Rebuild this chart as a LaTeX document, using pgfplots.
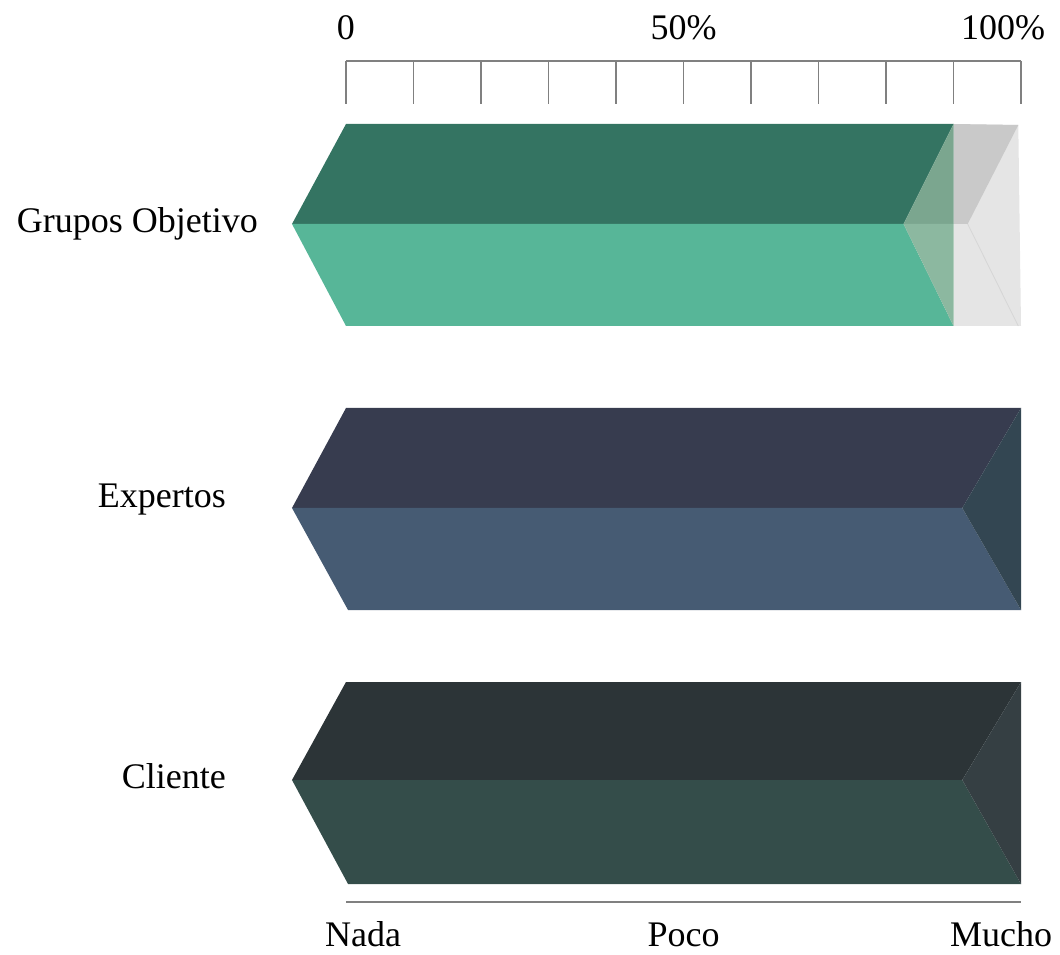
\documentclass[border=0pt]{standalone}
\usepackage{fontspec}
\setmainfont{Liberation Serif}
\usepackage{pgfplots}
\pgfplotsset{compat=1.18}
\definecolor{gtop}{HTML}{347462}
\definecolor{gbot}{HTML}{57B698}
\definecolor{gtria}{HTML}{7BA68F}
\definecolor{gtrib}{HTML}{8CB8A0}
\definecolor{grayA}{HTML}{C9C9C9}
\definecolor{grayB}{HTML}{E5E5E5}
\definecolor{grayC}{HTML}{D6D6D6}
\definecolor{etop}{HTML}{373C4F}
\definecolor{ebot}{HTML}{465B73}
\definecolor{etri}{HTML}{334652}
\definecolor{ctop}{HTML}{2C3437}
\definecolor{cbot}{HTML}{344D4A}
\definecolor{ctri}{HTML}{353F43}
\definecolor{axgray}{HTML}{808080}
\newcommand{\lbl}{\fontsize{36}{40}\selectfont}
\begin{document}
\begin{tikzpicture}[x=1pt,y=1pt]
\useasboundingbox (0,0) rectangle (1060,954);
% main axis: top percentage ruler and bars
\begin{axis}[
  scale only axis, width=675pt, height=841pt,
  at={(346pt,52pt)}, anchor=south west,
  xmin=0, xmax=100, ymin=-902, ymax=-61,
  clip=false,
  axis x line*=top, axis y line=none,
  xtick={0,10,...,100},
  xticklabels={0,,,,,50\%,,,,,100\%\hspace*{36pt}},
  tick align=inside,
  major tick length=43pt,
  x axis line style={draw=axgray, line width=2pt},
  every tick/.style={draw=axgray, line width=1.8pt},
  xticklabel style={font=\lbl, inner sep=0pt, anchor=base, yshift=21pt},
]
% Grupos Objetivo (90%) : grey remainder
\addplot[fill=grayB, draw=none] coordinates {(90,-124) (99.6,-125) (100,-326) (90,-326)} -- cycle;
\addplot[fill=grayA, draw=none] coordinates {(90,-124) (99.6,-125) (92.1,-224) (90,-224)} -- cycle;
\addplot[draw=grayC, line width=0.8pt] coordinates {(92.1,-224) (99.6,-326)};
% Grupos Objetivo coloured part
\addplot[fill=gtop, draw=none] coordinates {(0,-124) (90,-124) (82.6,-224) (-8,-224)} -- cycle;
\addplot[fill=gbot, draw=none] coordinates {(-8,-224) (82.6,-224) (90,-326) (0,-326)} -- cycle;
\addplot[fill=gtria, draw=none] coordinates {(82.6,-224) (90,-124) (90,-224)} -- cycle;
\addplot[fill=gtrib, draw=none] coordinates {(82.6,-224) (90,-224) (90,-326)} -- cycle;
% Expertos (100%)
\addplot[fill=etop, draw=none] coordinates {(0,-408) (100,-408) (91.3,-508) (-8,-508)} -- cycle;
\addplot[fill=ebot, draw=none] coordinates {(-8,-508) (91.3,-508) (100,-610) (0.3,-610)} -- cycle;
\addplot[fill=etri, draw=none] coordinates {(91.3,-508) (100,-408) (100,-610)} -- cycle;
% Cliente (100%)
\addplot[fill=ctop, draw=none] coordinates {(0,-682) (100,-682) (91.3,-780) (-8,-780)} -- cycle;
\addplot[fill=cbot, draw=none] coordinates {(-8,-780) (91.3,-780) (100,-884) (0.3,-884)} -- cycle;
\addplot[fill=ctri, draw=none] coordinates {(91.3,-780) (100,-682) (100,-884)} -- cycle;
% category labels
\node[anchor=base east, font=\lbl, inner sep=0pt] at (axis cs:-13.04,-233) {Grupos Objetivo};
\node[anchor=base east, font=\lbl, inner sep=0pt] at (axis cs:-17.78,-508) {Expertos};
\node[anchor=base east, font=\lbl, inner sep=0pt] at (axis cs:-17.78,-788) {Cliente};
\end{axis}
% bottom qualitative scale
\begin{axis}[
  scale only axis, width=675pt, height=1pt,
  at={(346pt,52pt)}, anchor=south west,
  xmin=0, xmax=100, ymin=0, ymax=1,
  axis x line*=bottom, axis y line=none,
  xtick={0,50,100},
  xticklabels={\hspace*{34pt}Nada,Poco,Mucho\hspace*{40pt}},
  major tick length=0pt,
  x axis line style={draw=axgray, line width=2.2pt},
  xticklabel style={font=\lbl, inner sep=0pt, anchor=base, yshift=-44pt},
]
\end{axis}
\end{tikzpicture}
\end{document}
